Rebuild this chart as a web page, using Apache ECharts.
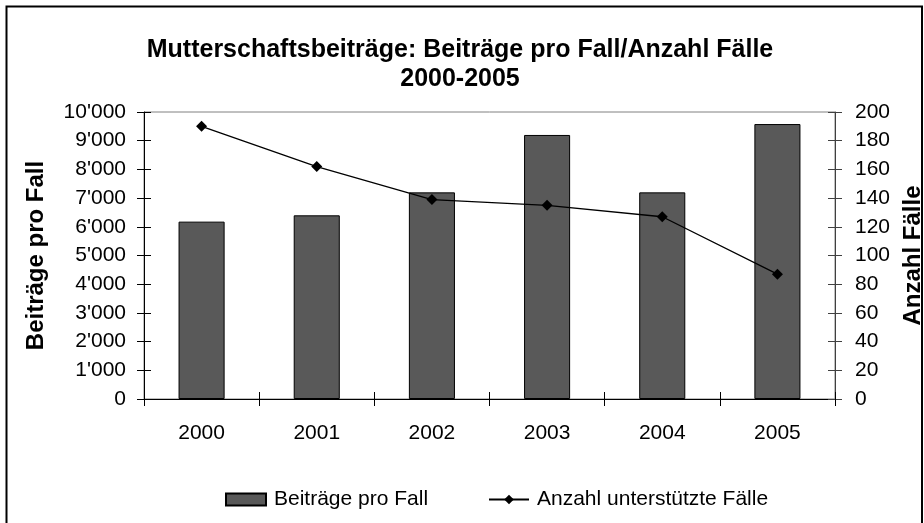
<!DOCTYPE html>
<html>
<head>
<meta charset="utf-8">
<script src="https://cdn.jsdelivr.net/npm/echarts@6/dist/echarts.min.js"></script>
<style>html,body{margin:0;padding:0;background:#fff}#c{width:924px;height:523px}</style>
</head>
<body>
<div id="c"></div>
<script>
var categories = ['2000', '2001', '2002', '2003', '2004', '2005'];
var beitraegeProFall = [6180, 6400, 7200, 9200, 7200, 9580];
var anzahlFaelle = [190, 162, 139, 135, 127, 87];
var leftTicks = [0, 10000, 1000];
var rightTicks = [0, 200, 20];

var FONT = 'Liberation Sans, Arial, sans-serif';
function fmt(v) {
  var s = String(Math.round(v));
  return s.replace(/\B(?=(\d{3})+(?!\d))/g, "'");
}
var chart = echarts.init(document.getElementById('c'), null, {renderer: 'canvas'});
var gridPos = {left: 144, right: 89, top: 112, bottom: 124};
var option = {
  animation: false,
  backgroundColor: '#fff',
  textStyle: {fontFamily: FONT},
  title: {
    text: 'Mutterschaftsbeiträge: Beiträge pro Fall/Anzahl Fälle\n2000-2005',
    left: 460, top: 36, textAlign: 'center', padding: 0,
    textStyle: {fontFamily: FONT, fontSize: 25, fontWeight: 'bold', color: '#000', lineHeight: 29}
  },
  graphic: [{
    type: 'rect', shape: {x: 6.5, y: 6.5, width: 915.5, height: 530},
    style: {fill: 'none', stroke: '#000', lineWidth: 2}, silent: true, z: 100
  }],
  legend: [{
    left: 225, top: 489, itemWidth: 40, itemHeight: 12, itemGap: 8, padding: 0,
    textStyle: {fontFamily: FONT, fontSize: 21, color: '#000', padding: [0, 0, 0, 3]},
    data: [{name: 'Beiträge pro Fall', icon: 'rect'}]
  }, {
    left: 488, top: 489, itemWidth: 40, itemHeight: 12, padding: 0,
    textStyle: {fontFamily: FONT, fontSize: 21, color: '#000', padding: [0, 0, 0, 3]},
    data: [{name: 'Anzahl unterstützte Fälle'}]
  }],
  grid: Object.assign({show: true, borderColor: '#808080', borderWidth: 1, backgroundColor: 'transparent',
    containLabel: false, outerBoundsMode: 'none'}, gridPos),
  xAxis: [{
    type: 'category', data: categories, position: 'bottom',
    axisLine: {lineStyle: {color: '#000', width: 1}},
    axisTick: {show: true, length: 7, lineStyle: {color: '#000'}},
    axisLabel: {fontFamily: FONT, fontSize: 21, color: '#000', margin: 24},
    splitLine: {show: false}
  }, {
    type: 'category', data: categories, position: 'bottom',
    axisLine: {show: false},
    axisTick: {show: true, inside: true, length: 7, lineStyle: {color: '#000'}},
    axisLabel: {show: false}, splitLine: {show: false}
  }],
  yAxis: [{
    type: 'value', min: leftTicks[0], max: leftTicks[1], interval: leftTicks[2], position: 'left',
    name: 'Beiträge pro Fall', nameLocation: 'middle', nameGap: 96, nameRotate: 90,
    nameTextStyle: {fontFamily: FONT, fontSize: 24, fontWeight: 'bold', color: '#000'},
    axisLine: {show: true, lineStyle: {color: '#000'}},
    axisTick: {show: true, length: 7, lineStyle: {color: '#000'}},
    axisLabel: {fontFamily: FONT, fontSize: 21, color: '#000', margin: 18, formatter: fmt},
    splitLine: {show: false}
  }, {
    type: 'value', min: rightTicks[0], max: rightTicks[1], interval: rightTicks[2], position: 'right',
    name: 'Anzahl Fälle', nameLocation: 'middle', nameGap: 66, nameRotate: 90,
    nameTextStyle: {fontFamily: FONT, fontSize: 24, fontWeight: 'bold', color: '#000'},
    axisLine: {show: true, lineStyle: {color: '#404040'}},
    axisTick: {show: true, length: 7, lineStyle: {color: '#404040'}},
    axisLabel: {fontFamily: FONT, fontSize: 21, color: '#000', margin: 20},
    splitLine: {show: false}
  }, {
    type: 'value', min: leftTicks[0], max: leftTicks[1], interval: leftTicks[2], position: 'left',
    axisLine: {show: false}, axisTick: {show: true, inside: true, length: 7, lineStyle: {color: '#000'}},
    axisLabel: {show: false}, splitLine: {show: false}
  }, {
    type: 'value', min: rightTicks[0], max: rightTicks[1], interval: rightTicks[2], position: 'right',
    axisLine: {show: false}, axisTick: {show: true, inside: true, length: 7, lineStyle: {color: '#404040'}},
    axisLabel: {show: false}, splitLine: {show: false}
  }],
  series: [{
    name: 'Beiträge pro Fall', type: 'bar', xAxisIndex: 0, yAxisIndex: 0,
    data: beitraegeProFall, barWidth: '40%',
    itemStyle: {color: '#595959', borderColor: '#000', borderWidth: 1}
  }, {
    name: 'Anzahl unterstützte Fälle', type: 'line', xAxisIndex: 0, yAxisIndex: 1,
    data: anzahlFaelle, symbol: 'diamond', symbolSize: 11,
    lineStyle: {color: '#000', width: 1.3},
    itemStyle: {color: '#000'}
  }]
};
chart.setOption(option);
</script>
</body>
</html>
